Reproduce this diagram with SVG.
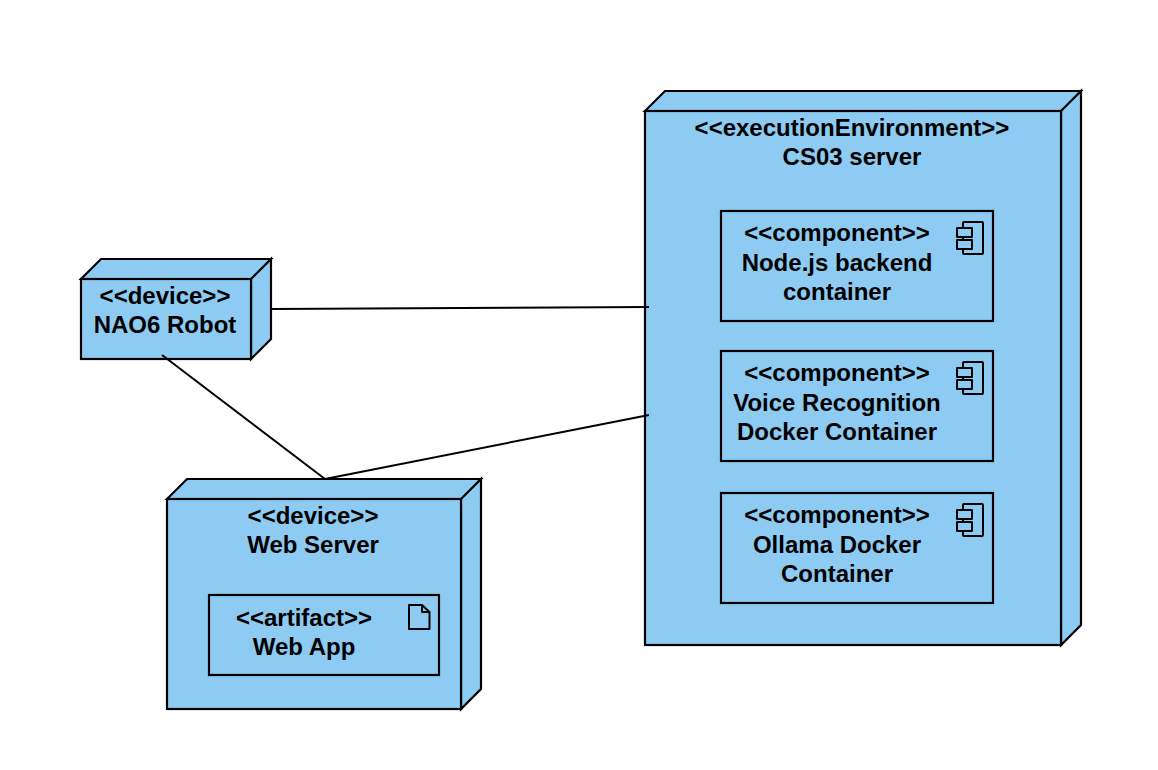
<svg xmlns="http://www.w3.org/2000/svg" width="1158" height="770" viewBox="0 0 1158 770">
<defs>
<g id="comp-icon"><rect class="ln" x="-21" y="-16" width="20" height="32" rx="1"/><rect class="ln" x="-27" y="-10" width="15" height="9"/><rect class="ln" x="-27" y="2" width="15" height="9"/></g>
</defs>
<style>
text{font-family:"Liberation Sans",Arial,Helvetica,sans-serif;font-size:24px;font-weight:bold;fill:#000;text-anchor:middle}
.box{fill:#8ecbf2;stroke:#000;stroke-width:2.2;stroke-linejoin:miter}
.ln{fill:#8ecbf2;stroke:#000;stroke-width:2;stroke-linejoin:round}
.edge{fill:none;stroke:#000;stroke-width:2}
</style>
<rect width="1158" height="770" fill="#fff"/>
<g id="n-cs03">
<path class="box" d="M645 111L665 91H1081L1061 111ZM1061 111L1081 91V625L1061 645Z"/>
<rect class="box" x="645" y="111" width="416" height="534"/>
<text x="852" y="136">&lt;&lt;executionEnvironment&gt;&gt;</text>
<text x="852" y="165">CS03 server</text>
</g>
<g id="n-nodejs">
<rect class="box" x="721" y="211" width="272" height="110"/>
<use href="#comp-icon" x="984" y="238"/>
<text x="837" y="241">&lt;&lt;component&gt;&gt;</text>
<text x="837" y="271">Node.js backend</text>
<text x="837" y="300">container</text>
</g>
<g id="n-voice">
<rect class="box" x="721" y="351" width="272" height="110"/>
<use href="#comp-icon" x="984" y="378"/>
<text x="837" y="381">&lt;&lt;component&gt;&gt;</text>
<text x="837" y="411">Voice Recognition</text>
<text x="837" y="440">Docker Container</text>
</g>
<g id="n-ollama">
<rect class="box" x="721" y="493" width="272" height="110"/>
<use href="#comp-icon" x="984" y="520"/>
<text x="837" y="523">&lt;&lt;component&gt;&gt;</text>
<text x="837" y="553">Ollama Docker</text>
<text x="837" y="582">Container</text>
</g>
<g id="n-nao">
<path class="box" d="M81 279L101 259H271L251 279ZM251 279L271 259V339L251 359Z"/>
<rect class="box" x="81" y="279" width="170" height="80"/>
<text x="165" y="304">&lt;&lt;device&gt;&gt;</text>
<text x="165" y="333">NAO6 Robot</text>
</g>
<g id="n-web">
<path class="box" d="M167 499L187 479H481L461 499ZM461 499L481 479V689L461 709Z"/>
<rect class="box" x="167" y="499" width="294" height="210"/>
<text x="313" y="524">&lt;&lt;device&gt;&gt;</text>
<text x="313" y="553">Web Server</text>
</g>
<g id="n-webapp">
<rect class="box" x="209" y="595" width="230" height="80"/>
<path class="ln" d="M409 605H422L429.500 612V629H409Z M422 605V612H429.500"/>
<text x="304" y="626">&lt;&lt;artifact&gt;&gt;</text>
<text x="304" y="655">Web App</text>
</g>
<g id="connectors">
<path class="edge" d="M272 309L649 307"/>
<path class="edge" d="M162 355L325 479"/>
<path class="edge" d="M325 479L649 415"/>
</g>
</svg>
